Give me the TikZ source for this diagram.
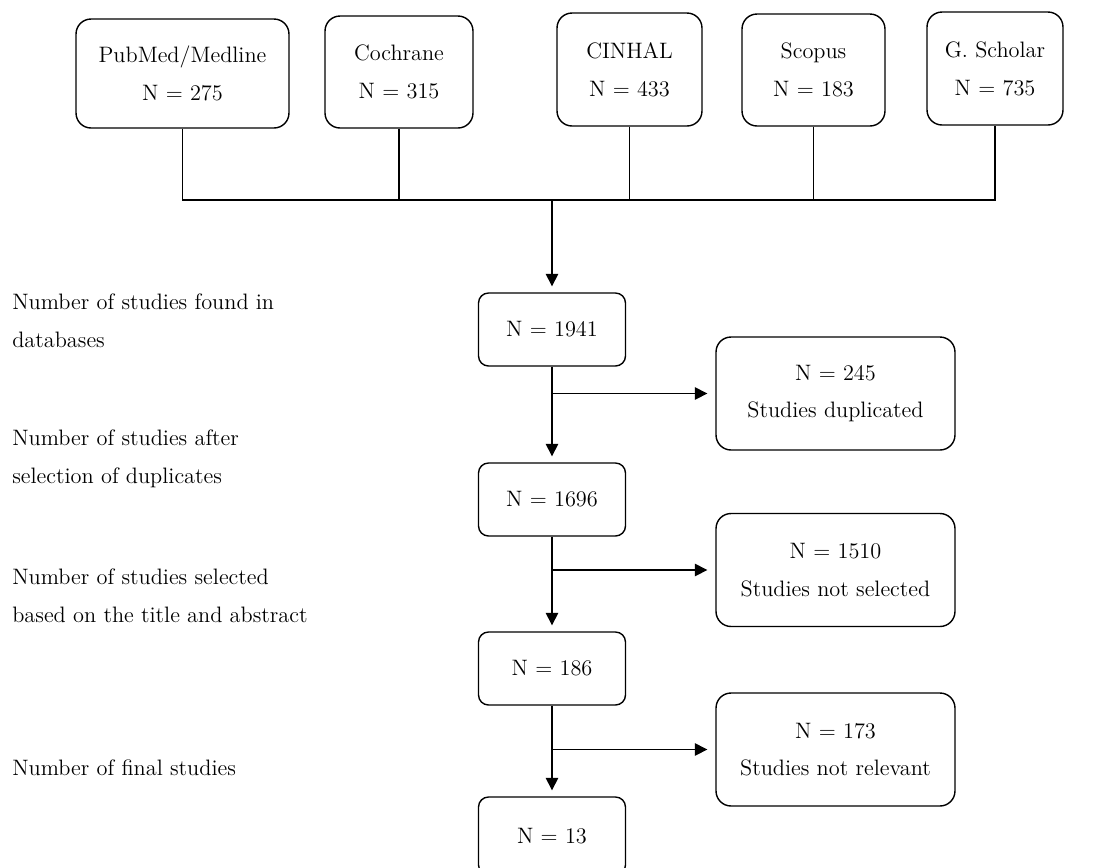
\documentclass[tikz,border=0pt]{standalone}
\usepackage{tikz}
\usetikzlibrary{arrows.meta}
\tikzset{
	dbbox/.style={draw, line width=0.8pt, rounded corners=3mm, align=center, font=\fontsize{12.7}{21.5}\selectfont, inner sep=0pt},
	stepbox/.style={draw, line width=0.8pt, rounded corners=2mm, align=center, font=\fontsize{12.7}{21.5}\selectfont, inner sep=0pt, minimum width=2.94cm, minimum height=1.46cm},
	sidebox/.style={draw, line width=0.8pt, rounded corners=3mm, align=center, font=\fontsize{12.7}{21.5}\selectfont, inner sep=0pt, minimum width=4.78cm, minimum height=2.26cm},
	leftlabel/.style={anchor=west, align=left, inner sep=0pt, font=\fontsize{12.7}{21.5}\selectfont},
	flowarrow/.style={line width=0.8pt, -{Triangle[length=2.5mm,width=2.5mm]}, shorten >=1.2mm},
	plainline/.style={line width=0.8pt}
}
\begin{document}
\begin{tikzpicture}[x=0.02cm, y=-0.02cm]
		%%%%% START %%%%%
		\useasboundingbox (0, 0) rectangle (1113, 867);
		
		% databases
		\node[dbbox, minimum width=4.26cm, minimum height=2.18cm] (pubmed) at (182.5, 73.5) {PubMed/Medline\\N = 275};
		\node[dbbox, minimum width=2.96cm, minimum height=2.24cm] (cochrane) at (399, 72) {Cochrane\\N = 315};
		\node[dbbox, minimum width=2.90cm, minimum height=2.26cm] (cinhal) at (629.5, 69.5) {CINHAL\\N = 433};
		\node[dbbox, minimum width=2.86cm, minimum height=2.24cm] (scopus) at (813.5, 70) {Scopus\\N = 183};
		\node[dbbox, minimum width=2.72cm, minimum height=2.26cm] (gscholar) at (995, 68.5) {G. Scholar\\N = 735};
		
		% selection steps
		\node[stepbox] (found) at (552, 329.5) {N = 1941};
		\node[stepbox] (nodup) at (552, 499.5) {N = 1696};
		\node[stepbox] (titles) at (552, 668.5) {N = 186};
		\node[stepbox, minimum height=1.56cm] (final) at (552, 836) {N = 13};
		
		\node[sidebox] (dup) at (835.5, 393.5) {N = 245\\Studies duplicated};
		\node[sidebox] (notsel) at (835.5, 570) {N = 1510\\Studies not selected};
		\node[sidebox] (notrel) at (835.5, 749.5) {N = 173\\Studies not relevant};
		
		% labels on the left
		\node[leftlabel] (lblfound) at (12, 320.5) {Number of studies found in\\databases};
		\node[leftlabel] (lblnodup) at (12, 459) {Number of studies after\\selection of duplicates};
		\node[leftlabel] (lbltitles) at (12, 595.5) {Number of studies selected\\based on the title and abstract};
		\node[leftlabel] (lblfinal) at (12, 768) {Number of final studies};
		
		% connectors
		\coordinate (bus) at (552, 200);
		\draw[plainline] (pubmed.south) |- (bus) -| (gscholar.south);
		\foreach \db in {cochrane, cinhal, scopus}
			\draw[plainline] (\db.south) -- (\db.south |- bus);
		\draw[flowarrow] (bus) -- (found);
		
		\draw[flowarrow] (found) -- (nodup);
		\draw[flowarrow] (nodup) -- (titles);
		\draw[flowarrow] (titles) -- (final);
		
		\draw[flowarrow, shorten >=1.6mm] (found |- dup.west) -- (dup.west);
		\draw[flowarrow, shorten >=1.6mm] (nodup |- notsel.west) -- (notsel.west);
		\draw[flowarrow, shorten >=1.6mm] (titles |- notrel.west) -- (notrel.west);
		
		%%%%% END %%%%%
	\end{tikzpicture}
\end{document}
